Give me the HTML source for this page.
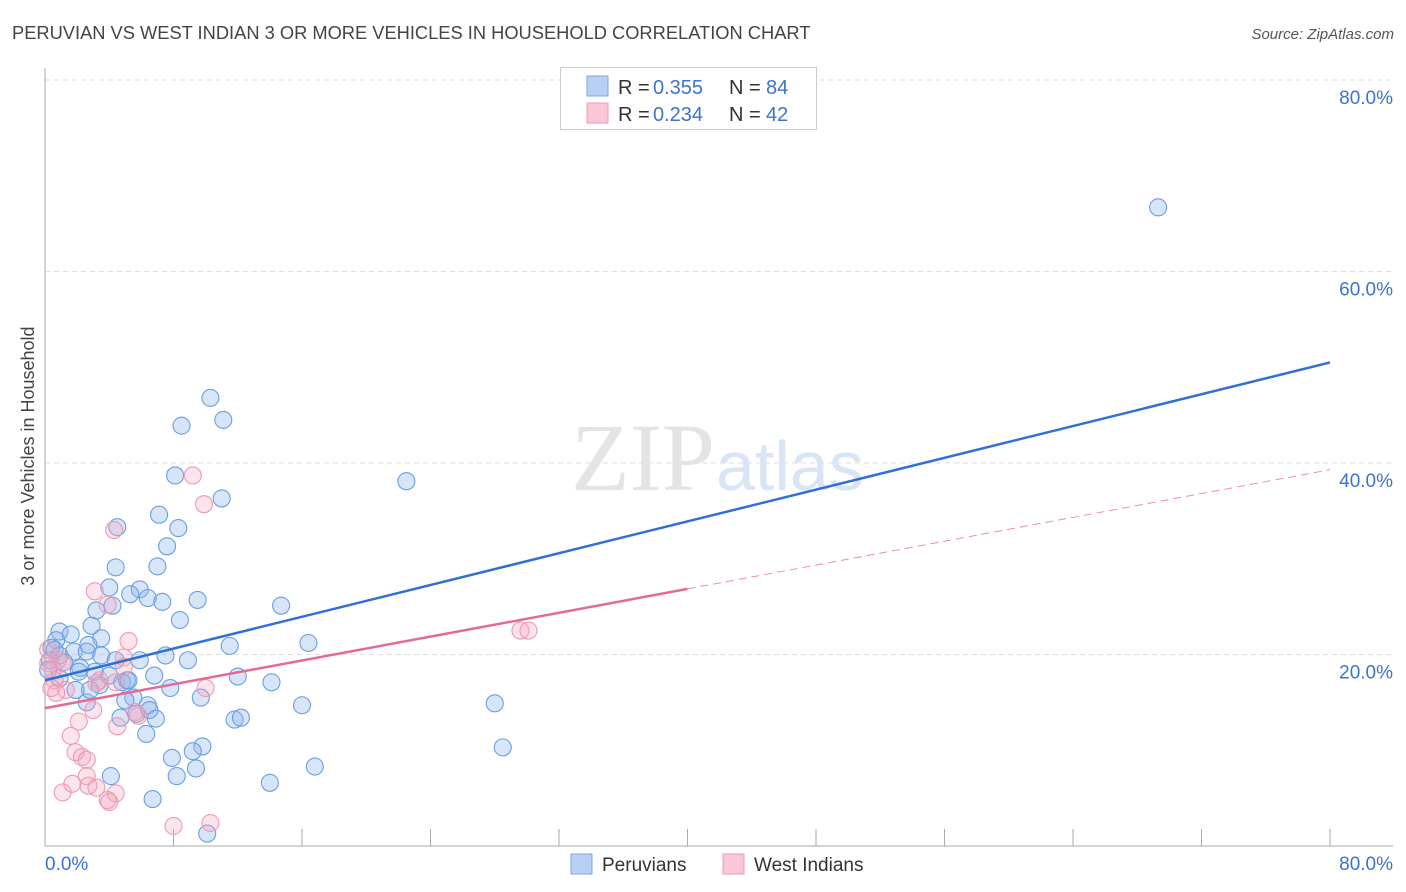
<!DOCTYPE html>
<html><head><meta charset="utf-8"><style>
body{margin:0;background:#fff;font-family:"Liberation Sans",sans-serif;}
svg{display:block}
</style></head><body>
<svg id="c" width="1406" height="892">
<text x="12" y="39" font-size="18.3" fill="#444">PERUVIAN VS WEST INDIAN 3 OR MORE VEHICLES IN HOUSEHOLD CORRELATION CHART</text>
<text x="1394" y="39" font-size="15" fill="#555" font-style="italic" text-anchor="end">Source: ZipAtlas.com</text>
<text x="34" y="456" font-size="18" fill="#444" text-anchor="middle" transform="rotate(-90 34 456)">3 or more Vehicles in Household</text>
<g id="grid"></g>
<text x="715" y="490" font-size="96" fill="#e4e4e4" text-anchor="end" font-family="Liberation Serif,serif">ZIP</text>
<text x="716" y="490" font-size="70" fill="#d8e5f5">atlas</text>
<g id="pts"></g>
<g id="lines"></g>
<g>
<rect x="560.5" y="67.5" width="256" height="62" fill="#fff" stroke="#ccc"/>
<rect x="587" y="76" width="21" height="20" fill="#b7d0f4" stroke="#7ba7e6"/>
<rect x="587" y="103" width="21" height="20" fill="#f9c6d5" stroke="#ec9ab4"/>
<g font-size="20" fill="#333">
<text x="618" y="94">R =</text><text x="653" y="94" fill="#3b73d1">0.355</text><text x="729" y="94">N =</text><text x="766" y="94" fill="#3b73d1">84</text></g>
<g font-size="20" fill="#333">
<text x="618" y="121">R =</text><text x="653" y="121" fill="#3b73d1">0.234</text><text x="729" y="121">N =</text><text x="766" y="121" fill="#3b73d1">42</text></g>
</g>
<g>
<rect x="571" y="854" width="21" height="20" fill="#b7d0f4" stroke="#7ba7e6"/>
<text x="602" y="871" font-size="19" fill="#333">Peruvians</text>
<rect x="723" y="854" width="21" height="20" fill="#f9c6d5" stroke="#ec9ab4"/>
<text x="754" y="871" font-size="19" fill="#333">West Indians</text>
</g>
</svg>
<script>
const xTicks=[0,8,16,24,32,40,48,56,64,72,80];
const yTicks=[20,40,60,80];
const bx=[69.3,10.3,8.5,11.1,8.1,22.5,11.0,7.1,4.5,8.3,7.6,4.4,7.0,4.0,3.2,4.2,5.9,5.3,6.4,7.3,9.5,14.7,2.9,0.9,1.6,0.7,3.5,2.7,11.5,16.4,0.4,1.8,2.6,7.5,8.9,3.5,4.0,2.2,2.1,3.1,4.8,5.1,6.8,5.2,12.0,14.1,2.6,5.5,7.8,6.4,9.7,16.0,28.0,5.7,4.7,6.9,11.8,12.2,6.3,9.8,9.2,7.9,28.5,9.4,8.2,4.1,16.8,14.0,6.7,10.1,0.3,0.9,1.2,0.2,0.6,3.4,5.0,5.9,4.4,2.8,0.9,1.9,6.5,8.4];
const by=[66.7,46.8,43.9,44.5,38.7,38.1,36.3,34.6,33.3,33.2,31.3,29.1,29.2,27.0,24.6,25.1,26.8,26.3,25.9,25.5,25.7,25.1,23.0,22.4,22.1,21.5,21.7,21.0,20.9,21.2,20.7,20.3,20.3,19.9,19.4,19.9,17.8,18.6,18.2,18.2,17.1,17.3,17.8,17.3,17.7,17.1,15.0,15.5,16.5,14.7,15.5,14.7,14.9,13.8,13.4,13.3,13.2,13.4,11.7,10.4,9.9,9.2,10.3,8.1,7.3,7.3,8.3,6.6,4.9,1.3,19.4,19.9,19.2,18.4,20.5,16.8,15.2,19.4,19.4,16.3,17.5,16.3,14.2,23.6];
const wx=[9.2,9.9,4.3,3.1,3.9,5.2,0.8,0.2,1.1,4.9,4.9,3.4,3.2,0.6,0.4,1.3,0.7,10.0,3.0,5.8,4.5,2.1,1.6,1.9,2.3,2.6,2.6,3.2,2.7,1.1,1.7,4.4,3.9,4.0,8.0,10.3,29.6,30.1,0.2,0.5,4.4,5.6];
const wy=[38.7,35.7,33.0,26.6,25.2,21.4,19.4,19.1,19.1,19.7,18.7,17.3,17.0,17.3,16.5,16.3,16.0,16.5,14.2,13.6,12.5,13.0,11.5,9.8,9.3,9.0,7.3,6.1,6.3,5.6,6.5,5.5,4.8,4.6,2.1,2.4,22.5,22.5,20.5,18.4,17.1,14.0];
const blueLine=[17.3,50.5];
const pinkLine=[14.4,39.3];
const X=v=>45+v/80*1285, Y=v=>846-v/20*191.5;
const NS="http://www.w3.org/2000/svg";
function mk(t,a,p){const e=document.createElementNS(NS,t);for(const k in a)e.setAttribute(k,a[k]);p.appendChild(e);return e;}
const g=document.getElementById('grid');
yTicks.forEach(t=>{
 const l=mk('line',{x1:45,x2:1393,y1:Y(t),y2:Y(t),stroke:'#ddd','stroke-dasharray':'5,4'},g);
 
 
 const tx=mk('text',{x:1393,y:Y(t)+24,'font-size':19,fill:'#3b73d1','text-anchor':'end'},g);tx.textContent=t.toFixed(1)+'%';
 
 
});
mk('line',{x1:45,x2:45,y1:68,y2:846,stroke:'#aaa'},g);
mk('line',{x1:45,x2:1393,y1:846,y2:846,stroke:'#aaa'},g);
xTicks.forEach(t=>{const l=mk('line',{x1:X(t),x2:X(t),y1:829,y2:846,stroke:'#aaa'},g);
 
 });
[[0,'start',45],[80,'end',1393]].forEach(([v,a,x])=>{const tx=mk('text',{x:x,y:870,'font-size':19,fill:'#3b73d1','text-anchor':a},g);tx.textContent=v.toFixed(1)+'%';
 
 });
const p=document.getElementById('pts');
bx.forEach((v,i)=>{const c=mk('circle',{cx:X(v),cy:Y(by[i]),r:8.5,fill:'rgba(140,180,235,0.35)',stroke:'#6a9ee3','stroke-width':1.1},p);
 
 });
wx.forEach((v,i)=>{const c=mk('circle',{cx:X(v),cy:Y(wy[i]),r:8.5,fill:'rgba(245,165,190,0.3)',stroke:'#ec9ab4','stroke-width':1.1},p);
 
 });
const L=document.getElementById('lines');
const bl=mk('line',{x1:X(0),y1:Y(blueLine[0]),x2:X(80),y2:Y(blueLine[1]),stroke:'#2f6fd6','stroke-width':2.5},L);


const pm=pinkLine[0]+(pinkLine[1]-pinkLine[0])*0.5;
const pl=mk('line',{x1:X(0),y1:Y(pinkLine[0]),x2:X(40),y2:Y(pm),stroke:'#e46a94','stroke-width':2.5},L);


const pd=mk('line',{x1:X(40),y1:Y(pm),x2:X(80),y2:Y(pinkLine[1]),stroke:'#e98fac','stroke-width':1,'stroke-dasharray':'8,5'},L);


</script>
</body></html>
